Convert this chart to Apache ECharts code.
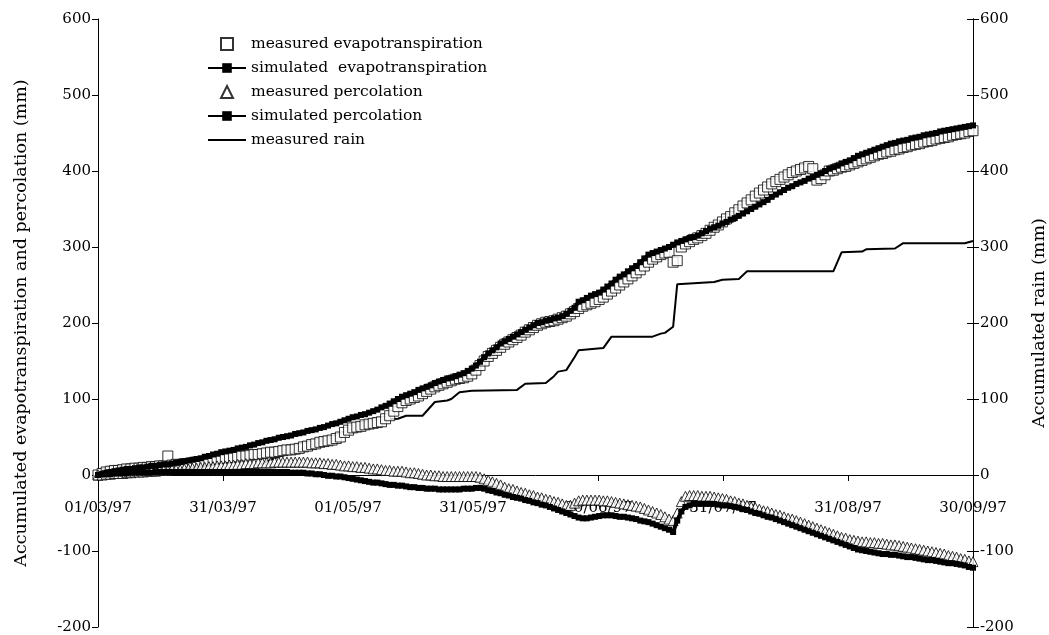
<!DOCTYPE html>
<html><head><meta charset="utf-8">
<script src="https://cdn.jsdelivr.net/npm/echarts@6/dist/echarts.min.js"></script>
<style>html,body{margin:0;padding:0;background:#fff}#c{width:1049px;height:635px}</style>
</head><body><div id="c"></div>
<script>
const dateLabels = ['01/03/97','31/03/97','01/05/97','31/05/97','30/06/97','31/07/97','31/08/97','30/09/97'];
const lastDay = 213;

const measuredET = [
0,2,4,5,6,6,7,8,8,9,
9,10,10,11,11,12,12,25,13,14,
14,15,15,16,17,17,18,19,20,21,
22,22,23,23,24,25,25,26,27,27,
28,29,30,30,31,32,33,33,34,35,
37,38,40,41,43,44,45,46,48,50,
56,59,62,63,64,66,67,68,69,70,
74,78,84,90,95,98,100,102,104,107,
110,113,116,118,120,122,124,126,127,128,
130,133,138,144,150,156,160,164,168,172,
175,178,181,184,188,191,194,197,199,201,
202,203,205,207,209,212,215,219,222,224,
226,228,231,234,238,242,246,250,254,258,
262,266,270,275,280,284,287,290,292,293,
280,282,300,304,307,310,312,315,318,322,
326,329,333,337,340,345,349,354,358,362,
367,371,375,379,383,386,389,392,395,398,
400,402,404,406,403,388,390,395,400,401,
403,405,406,408,410,412,414,416,418,420,
422,423,425,426,428,429,431,432,434,435,
436,438,439,440,442,443,444,445,447,448,
449,450,452,453
];

const simulatedET = [
0,1,3,4,5,6,7,8,8,9,
10,10,11,12,12,13,14,14,15,16,
17,18,19,20,21,22,24,25,27,28,
30,31,32,33,35,36,37,39,40,42,
43,45,46,47,49,50,51,52,54,55,
56,58,59,60,62,63,65,67,68,70,
72,74,76,77,79,80,82,84,86,89,
91,94,97,100,103,105,107,109,112,114,
116,118,121,123,125,127,128,130,132,134,
137,140,144,149,155,160,164,168,173,176,
179,182,185,188,191,194,197,200,201,203,
204,206,207,209,212,216,220,228,230,233,
236,238,240,244,248,252,257,261,264,268,
272,275,280,285,290,292,294,296,298,300,
303,306,308,310,312,313,315,318,321,324,
326,328,331,333,336,338,341,344,347,350,
353,356,359,362,366,369,372,375,378,380,
383,385,387,390,392,395,397,400,403,405,
407,410,412,414,417,420,422,424,426,428,
430,432,434,436,437,439,440,441,443,444,
445,447,448,449,450,452,453,454,455,456,
457,458,459,460
];

const measuredPerc = [
0,0,1,1,2,2,2,3,3,4,
4,4,5,5,5,6,6,6,7,7,
7,8,8,9,9,10,10,11,11,12,
12,12,13,13,14,14,15,15,15,16,
16,16,16,17,17,17,17,17,17,17,
17,17,16,16,16,15,15,14,14,13,
12,12,11,11,10,10,9,8,8,7,
6,6,5,5,5,4,3,3,2,1,
0,0,-1,-1,-2,-2,-2,-2,-2,-2,
-2,-2,-2,-3,-5,-7,-9,-11,-13,-16,
-18,-19,-21,-23,-24,-26,-27,-29,-30,-32,
-33,-35,-36,-38,-40,-40,-37,-34,-33,-33,
-33,-33,-33,-34,-34,-35,-36,-37,-38,-39,
-40,-41,-42,-44,-46,-48,-50,-52,-55,-58,
-60,-50,-35,-28,-27,-27,-27,-28,-28,-28,
-29,-30,-31,-32,-34,-35,-37,-38,-40,-42,
-43,-45,-47,-48,-50,-52,-53,-55,-57,-58,
-60,-62,-64,-66,-68,-70,-72,-74,-76,-78,
-80,-82,-83,-85,-86,-87,-88,-88,-89,-89,
-90,-90,-91,-92,-92,-93,-94,-95,-96,-97,
-98,-99,-100,-101,-102,-103,-104,-106,-107,-108,
-110,-111,-113,-114
];

const simulatedPerc = [
0,1,1,1,2,2,2,2,3,3,
3,3,3,3,4,4,4,4,4,4,
4,4,4,4,4,4,4,4,4,4,
4,4,4,4,4,4,4,4,4,4,
4,4,4,4,4,4,4,3,3,3,
3,2,2,1,1,0,-1,-1,-2,-2,
-3,-4,-5,-6,-7,-8,-9,-10,-10,-11,
-12,-13,-13,-14,-14,-15,-16,-16,-17,-17,
-18,-18,-18,-19,-19,-19,-19,-19,-19,-18,
-18,-18,-17,-17,-18,-20,-21,-23,-24,-26,
-27,-29,-30,-31,-33,-34,-36,-37,-39,-40,
-42,-44,-46,-48,-50,-52,-54,-56,-57,-57,
-56,-55,-54,-53,-53,-53,-54,-55,-55,-56,
-57,-58,-60,-61,-62,-64,-66,-68,-70,-72,
-75,-60,-48,-42,-40,-38,-38,-38,-38,-38,
-38,-39,-40,-40,-41,-42,-43,-45,-46,-48,
-50,-51,-53,-55,-56,-58,-60,-62,-64,-66,
-68,-70,-72,-74,-76,-78,-80,-82,-84,-86,
-88,-90,-92,-94,-96,-98,-99,-100,-101,-102,
-103,-104,-104,-105,-105,-106,-107,-108,-108,-109,
-110,-111,-112,-112,-113,-114,-115,-116,-116,-117,
-118,-119,-121,-122
];

const rainDays   = [0,8,16,34,38,42,46,50,54,58,62,66,73,75,79,82,85,86,88,91,102,104,109,111,112,114,116,117,123,125,135,137,138,140,141,150,152,156,158,179,181,186,187,194,196,211,213];
const rainValues = [0,2,4,6,10,20,28,35,44,52,62,72,74,78,78,96,98,100,109,111,112,120,121,130,136,138,155,164,167,182,182,186,187,195,251,254,257,258,268,268,293,294,297,298,305,305,308];

const FONT = 'DejaVu Serif';
const toPairs = arr => arr.map((v, i) => [i, v]);
const step = lastDay / (dateLabels.length - 1);
const GRID_TOP = 19, GRID_BOTTOM = 8, H = 635;
const yMin = -200, yMax = 600;
const zeroOffset = (0 - yMin) / (yMax - yMin) * (H - GRID_TOP - GRID_BOTTOM);

const chart = echarts.init(document.getElementById('c'), null, {renderer: 'canvas'});
const yBase = {
  type: 'value', min: yMin, max: yMax, interval: 100,
  splitLine: {show: false},
  axisLine: {show: true, lineStyle: {color: '#000', width: 1}},
  axisTick: {show: true, length: 6, lineStyle: {color: '#000'}},
  axisLabel: {color: '#000', fontFamily: FONT, fontSize: 15, margin: 7},
  nameLocation: 'middle',
  nameTextStyle: {color: '#000', fontFamily: FONT, fontSize: 17.5}
};
chart.setOption({
  animation: false,
  backgroundColor: '#fff',
  grid: {left: 98, right: 76, top: GRID_TOP, bottom: GRID_BOTTOM, outerBoundsMode: 'none', containLabel: false},
  legend: {
    orient: 'vertical', left: 202, top: 31,
    itemWidth: 38, itemHeight: 12, itemGap: 8,
    textStyle: {color: '#000', fontFamily: FONT, fontSize: 15.5},
    data: [
      {name: 'measured evapotranspiration', icon: 'path://M0 0H10V10H0Z'},
      {name: 'simulated  evapotranspiration'},
      {name: 'measured percolation', icon: 'path://M5 0L10 10H0Z'},
      {name: 'simulated percolation'},
      {name: 'measured rain', icon: 'path://M0 0H20V1H0Z'}
    ]
  },
  xAxis: {
    type: 'value', min: 0, max: lastDay, interval: step,
    offset: -zeroOffset,
    splitLine: {show: false},
    axisLine: {onZero: false, lineStyle: {color: '#000', width: 1}},
    axisTick: {show: true, length: 6, lineStyle: {color: '#000'}},
    axisLabel: {
      color: '#000', fontFamily: FONT, fontSize: 15, margin: 26,
      formatter: v => dateLabels[Math.round(v / step)] || ''
    }
  },
  yAxis: [
    Object.assign({}, yBase, {position: 'left', name: 'Accumulated evapotranspiration and percolation (mm)', nameGap: 68}),
    Object.assign({}, yBase, {position: 'right', name: 'Accumulated rain (mm)', nameGap: 57}),
    Object.assign({}, yBase, {position: 'right', axisLabel: {show: false}, axisTick: {show: true, inside: true, length: 6, lineStyle: {color: '#000'}}})
  ],
  series: [
    {name: 'measured rain', type: 'line', yAxisIndex: 1, symbol: 'none', z: 1,
     lineStyle: {color: '#000', width: 2}, itemStyle: {color: '#000'},
     data: rainDays.map((d, i) => [d, rainValues[i]])},
    {name: 'measured evapotranspiration', type: 'scatter', yAxisIndex: 0, symbol: 'rect', symbolSize: 10,
     itemStyle: {color: '#fff', borderColor: '#000', borderWidth: 1}, data: toPairs(measuredET)},
    {name: 'simulated  evapotranspiration', type: 'line', yAxisIndex: 0, symbol: 'rect', symbolSize: 6, showAllSymbol: true,
     lineStyle: {color: '#000', width: 4}, itemStyle: {color: '#000'}, data: toPairs(simulatedET)},
    {name: 'measured percolation', type: 'scatter', yAxisIndex: 0, symbol: 'triangle', symbolSize: 10,
     itemStyle: {color: '#fff', borderColor: '#000', borderWidth: 1}, data: toPairs(measuredPerc)},
    {name: 'simulated percolation', type: 'line', yAxisIndex: 0, symbol: 'rect', symbolSize: 6, showAllSymbol: true,
     lineStyle: {color: '#000', width: 4}, itemStyle: {color: '#000'}, data: toPairs(simulatedPerc)}
  ]
});
</script>
</body></html>
